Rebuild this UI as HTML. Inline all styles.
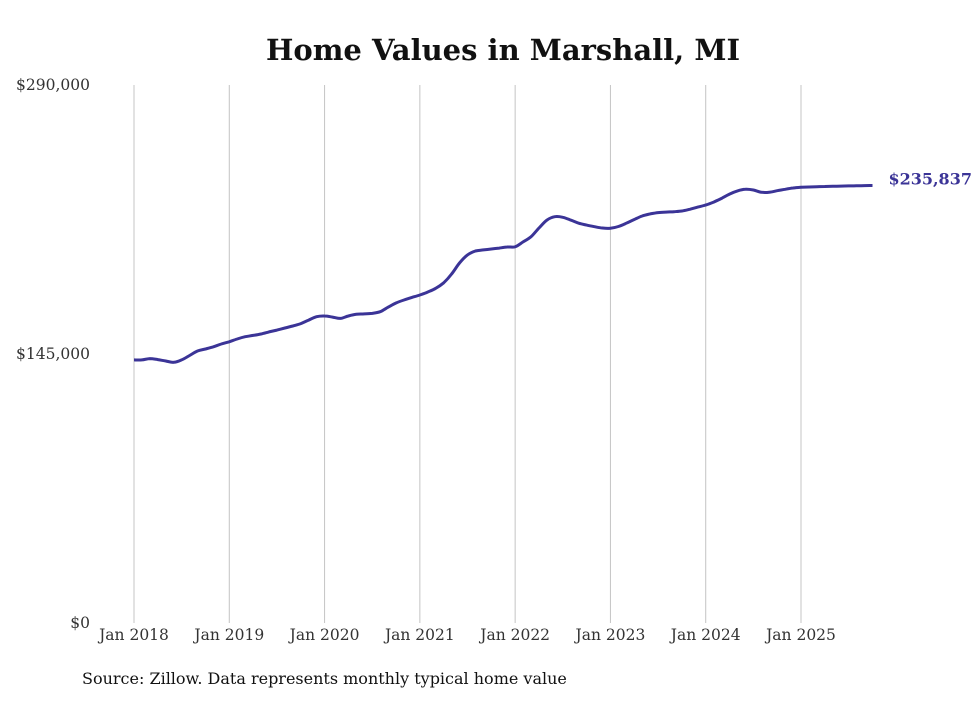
<!DOCTYPE html>
<html><head><meta charset="utf-8"><style>
body{margin:0;background:#fff;}
svg text{font-family:"DejaVu Serif","Liberation Serif",serif;}
</style></head><body>
<svg width="980" height="699" viewBox="0 0 980 699" xmlns="http://www.w3.org/2000/svg">
<text x="503" y="60" text-anchor="middle" font-size="29" font-weight="bold" fill="#111">Home Values in Marshall, MI</text>
<g id="grid"></g><g id="yax"></g><g id="xax"></g>
<path id="line" fill="none" stroke="#3b3497" stroke-width="3" stroke-linejoin="round"/>
<text id="endlabel" font-size="16" font-weight="bold" fill="#3b3497"></text>
<text x="82" y="684" font-size="16" fill="#111">Source: Zillow. Data represents monthly typical home value</text>
</svg>
<script>
const yearLabels=["Jan 2018","Jan 2019","Jan 2020","Jan 2021","Jan 2022","Jan 2023","Jan 2024","Jan 2025"];
const yTicks=[0,145000,290000];
const yTickLabels=["$0","$145,000","$290,000"];
const values=[141800,141800,142500,142000,141200,140500,141800,144200,146600,147700,148900,150400,
151600,153100,154300,155000,155800,156900,157900,159000,160100,161400,163300,165100,
165500,164900,164200,165500,166400,166600,166900,167800,170200,172500,174100,175500,
176800,178400,180400,183400,188100,194100,198400,200500,201100,201600,202100,202700,
202800,205400,208200,212900,217200,219000,218700,217200,215500,214500,213600,212900,
212800,213700,215500,217500,219400,220500,221200,221500,221700,222100,223000,224200,
225300,226900,228900,231200,232900,233800,233400,232200,232200,233000,233800,234500,
234900,235000,235200,235300,235400,235500,235600,235700,235750,235837];
const ns="http://www.w3.org/2000/svg";
const x0=134,pxPerMonth=(801-134)/84,yTop=85,yBot=623,yMax=290000;
const X=i=>x0+i*pxPerMonth;
const Y=v=>yBot-(v/yMax)*(yBot-yTop);
const grid=document.getElementById('grid'),yax=document.getElementById('yax'),xax=document.getElementById('xax');
yearLabels.forEach((lab,k)=>{
  const l=document.createElementNS(ns,'line');
  l.setAttribute('x1',X(k*12));l.setAttribute('x2',X(k*12));l.setAttribute('y1',yTop);l.setAttribute('y2',yBot);
  l.setAttribute('stroke','#c4c4c4');l.setAttribute('stroke-width','1');
  
  
  grid.appendChild(l);
  const t=document.createElementNS(ns,'text');
  t.setAttribute('x',X(k*12));t.setAttribute('y',640);t.setAttribute('text-anchor','middle');t.setAttribute('font-size','15.5');t.setAttribute('fill','#333');
  t.textContent=lab;
  
  
  xax.appendChild(t);
});
yTicks.forEach((v,k)=>{
  const t=document.createElementNS(ns,'text');
  t.setAttribute('x',90);t.setAttribute('y',Y(v)+5);t.setAttribute('text-anchor','end');t.setAttribute('font-size','15.5');t.setAttribute('fill','#333');
  t.textContent=yTickLabels[k];
  
  
  yax.appendChild(t);
});
const pts=values.map((v,i)=>[X(i),Y(v)]);
let d='M'+pts[0][0].toFixed(1)+','+pts[0][1].toFixed(1);
for(let i=0;i<pts.length-1;i++){
  const p0=pts[Math.max(i-1,0)],p1=pts[i],p2=pts[i+1],p3=pts[Math.min(i+2,pts.length-1)];
  const c1=[p1[0]+(p2[0]-p0[0])/6,p1[1]+(p2[1]-p0[1])/6],c2=[p2[0]-(p3[0]-p1[0])/6,p2[1]-(p3[1]-p1[1])/6];
  d+='C'+c1.map(n=>n.toFixed(1)).join(',')+' '+c2.map(n=>n.toFixed(1)).join(',')+' '+p2.map(n=>n.toFixed(1)).join(',');
}
document.getElementById('line').setAttribute('d',d);
const last=values.length-1,el=document.getElementById('endlabel');
el.setAttribute('x',X(last)+16);el.setAttribute('y',Y(values[last])-1);
el.textContent='$'+values[last].toLocaleString('en-US');
</script>
</body></html>
